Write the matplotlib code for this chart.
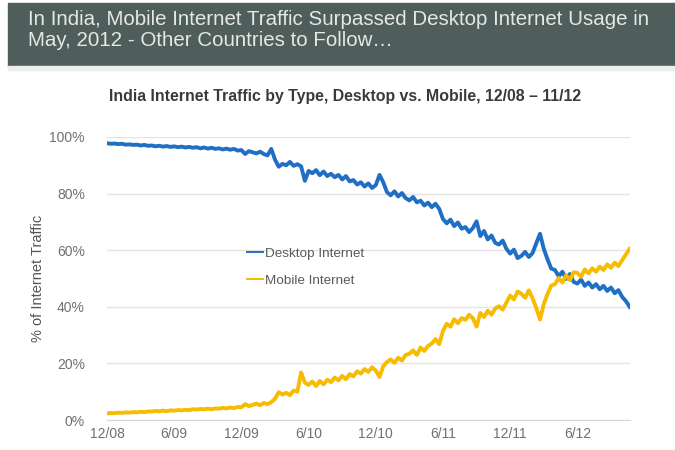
import numpy as np
import matplotlib
matplotlib.use("Agg")
import matplotlib.pyplot as plt
from matplotlib.patches import Rectangle

plt.rcParams['font.family'] = ['Liberation Sans', 'DejaVu Sans']

headline = ("In India, Mobile Internet Traffic Surpassed Desktop Internet Usage in\n"
            "May, 2012 - Other Countries to Follow\u2026")
chart_title = "India Internet Traffic by Type, Desktop vs. Mobile, 12/08 \u2013 11/12"

# share of traffic, three readings per month starting 12/08
desktop = [
    97.8, 97.6, 97.7, 97.5, 97.6, 97.3, 97.4, 97.2, 97.3, 97.0, 97.2, 96.9,
    97.0, 96.7, 96.9, 96.6, 96.8, 96.5, 96.7, 96.4, 96.6, 96.3, 96.5, 96.2,
    96.4, 96.0, 96.3, 95.9, 96.2, 95.8, 96.0, 95.6, 95.9, 95.5, 95.8, 95.2,
    95.4, 94.0, 95.0, 94.6, 94.2, 94.8, 94.0, 93.5, 95.8, 92.0, 89.5, 90.5,
    90.0, 91.2, 89.8, 90.4, 89.6, 84.5, 88.0, 87.2, 88.3, 86.5, 87.8, 86.2,
    87.0, 85.8, 86.6, 85.0, 86.2, 84.3, 84.8, 83.2, 84.0, 82.5, 83.6, 82.0,
    83.0, 86.6, 84.0, 80.5, 79.4, 80.8, 79.0, 80.2, 78.4, 77.6, 78.8, 76.9,
    77.5, 75.8, 76.8, 75.2, 76.4, 74.6, 71.0, 69.5, 70.8, 68.5, 69.8, 67.6,
    68.2, 66.4, 67.8, 70.2, 65.0, 66.8, 63.8, 65.2, 62.6, 62.0, 63.4, 60.5,
    58.8, 60.2, 57.2, 58.0, 59.4, 57.6, 59.0, 62.5, 65.8, 60.5, 56.8, 53.5,
    53.0, 50.8, 52.4, 49.8, 51.6, 48.8, 48.2, 49.6, 47.4, 48.6, 46.8, 48.0,
    46.2, 47.4, 45.6, 46.8, 44.8, 45.9, 43.5, 42.0, 40.0,
]
mobile = [
    2.3, 2.5, 2.4, 2.6, 2.5, 2.7, 2.6, 2.8, 2.7, 2.9, 2.8, 3.0,
    3.0, 3.2, 3.1, 3.3, 3.1, 3.4, 3.3, 3.5, 3.4, 3.6, 3.5, 3.8,
    3.7, 3.9, 3.8, 4.0, 3.8, 4.1, 4.0, 4.3, 4.1, 4.4, 4.2, 4.6,
    4.5, 5.6, 4.9, 5.3, 5.8, 5.2, 6.0, 5.6, 6.3, 7.5, 9.8, 9.0,
    9.6, 8.8, 10.4, 10.0, 16.8, 13.2, 12.4, 13.6, 12.0, 13.8, 12.6, 14.2,
    13.4, 15.0, 14.0, 15.6, 14.4, 16.2, 15.4, 17.2, 16.4, 18.0, 17.0, 18.6,
    17.5, 15.2, 19.0, 20.5, 21.4, 20.2, 22.0, 21.0, 23.0, 23.4, 24.6, 23.0,
    25.6, 24.4, 26.2, 27.0, 28.6, 26.8, 31.5, 34.0, 33.0, 35.6, 34.2, 36.0,
    35.4, 37.2, 36.0, 33.0, 37.8, 36.4, 38.6, 37.2, 39.4, 40.2, 39.0, 41.5,
    44.0, 42.6, 45.4, 44.6, 43.2, 45.8, 43.0, 39.5, 35.5, 41.0, 44.5, 47.5,
    48.0, 50.2, 48.6, 51.2, 49.4, 52.2, 52.0, 50.6, 53.2, 51.8, 53.6, 52.4,
    54.2, 53.0, 55.0, 53.8, 55.6, 54.4, 56.5, 58.5, 60.5,
]
tick_labels = ["12/08", "6/09", "12/09", "6/10", "12/10", "6/11", "12/11", "6/12"]
y_ticks = [0, 20, 40, 60, 80, 100]

months = np.arange(len(desktop)) / 3.0

fig = plt.figure(figsize=(6.75, 4.5), dpi=100)

# header band
fig.patches.append(Rectangle((8 / 675, 1 - 66 / 450), 1, 63 / 450,
                             transform=fig.transFigure, color="#4f5e5b", zorder=0))
fig.patches.append(Rectangle((8 / 675, 1 - 70 / 450), 1, 4 / 450,
                             transform=fig.transFigure, color="#eceeee", zorder=0))
fig.text(28 / 675, 1 - 10 / 450, headline, ha="left", va="top", fontsize=14.8,
         color="#e4e8e6", linespacing=1.1)
fig.text(345 / 675, 1 - 97 / 450, chart_title, ha="center", va="center", fontsize=11.4,
         fontweight="bold", color="#3a3a3a")

ax = fig.add_axes([107 / 675, 1 - 420 / 450, 523 / 675, 283 / 450])
ax.plot(months, desktop, color="#1f6fc4", lw=2.8, label="Desktop Internet", zorder=3)
ax.plot(months, mobile, color="#f7bb00", lw=2.8, label="Mobile Internet", zorder=3)

ax.set_xlim(0, 46.7)
ax.set_ylim(0, 100)
ax.set_xticks(np.arange(len(tick_labels)) * 6)
ax.set_xticklabels(tick_labels)
ax.set_yticks(y_ticks)
ax.set_yticklabels([f"{v}%" for v in y_ticks])
ax.tick_params(axis="both", length=0, labelsize=10, colors="#707070")
ax.tick_params(axis="y", pad=16)
ax.tick_params(axis="x", pad=5)
for s in ["top", "right", "left"]:
    ax.spines[s].set_visible(False)
ax.spines["bottom"].set_color("#d8d8d8")
ax.grid(axis="y", color="#e4e4e4", lw=1)
ax.set_axisbelow(True)
ax.set_ylabel("% of Internet Traffic", fontsize=10.5, color="#555555", labelpad=3)

leg = ax.legend(loc="center left", bbox_to_anchor=(0.245, 0.54), frameon=False,
                fontsize=9.7, handlelength=1.2, handletextpad=0.1, labelspacing=1.1)
for t in leg.get_texts():
    t.set_color("#5a5a5a")
for h in leg.get_lines():
    h.set_linewidth(1.4)

fig.savefig("out.png", dpi=100)
